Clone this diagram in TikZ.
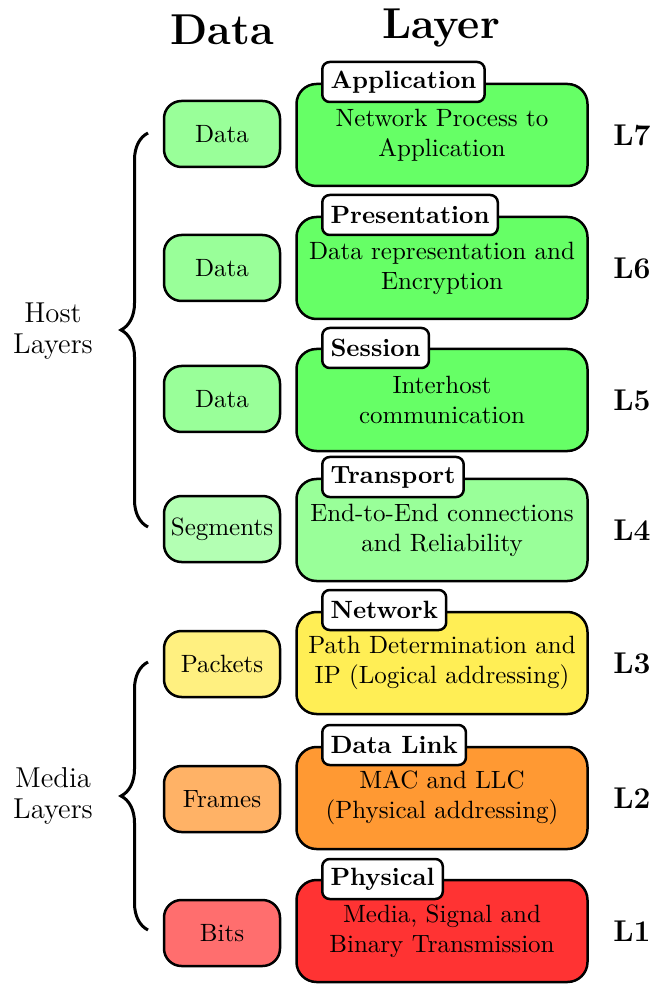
\documentclass[tikz,border=0pt]{standalone}
\usetikzlibrary{decorations.pathreplacing}
\definecolor{gA}{RGB}{102,255,102}
\definecolor{gB}{RGB}{153,255,153}
\definecolor{gC}{RGB}{179,255,179}
\definecolor{yA}{HTML}{FFEE55}
\definecolor{yB}{HTML}{FFF080}
\definecolor{oA}{RGB}{255,153,51}
\definecolor{oB}{RGB}{255,178,102}
\definecolor{rA}{RGB}{255,51,51}
\definecolor{rB}{RGB}{255,110,110}
\tikzset{
  databox/.style={draw, line width=1pt, rounded corners=7pt, minimum width=46.4pt, minimum height=26.4pt, inner sep=0pt, align=center},
  layerbox/.style={draw, line width=1pt, rounded corners=8pt, minimum width=116.4pt, minimum height=40.8pt, inner sep=0pt, align=center, text width=112pt},
  tagbox/.style={draw, line width=1pt, fill=white, rounded corners=3pt, inner xsep=3.3pt, inner ysep=0pt, minimum height=16pt, anchor=west, font=\bfseries},
  lvl/.style={font=\large\bfseries},
  title/.style={font=\LARGE\bfseries},
  bracelbl/.style={align=center, font=\fontsize{11.5}{12.5}\selectfont},
  bracedraw/.style={decorate, decoration={brace, amplitude=10.8pt}, line width=1.2pt}
}
\begin{document}
\begin{tikzpicture}[x=0.4pt, y=-0.4pt]
\useasboundingbox (0,0) rectangle (652,984);
\node[title] (hd) at (222,30) {Data};
\node[title] (hl) at (441,28) {Layer};

% L7
\node[databox, fill=gB] (d7) at (222,134) {Data};
\node[layerbox, fill=gA] (l7) at (442,135) {Network Process to\\Application};
\node[tagbox] (t7) at (321,82) {Application};
\node[lvl] (n7) at (632,135) {L7};
% L6
\node[databox, fill=gB] (d6) at (222,268) {Data};
\node[layerbox, fill=gA] (l6) at (442,268) {Data representation and\\Encryption};
\node[tagbox] (t6) at (321,215) {Presentation};
\node[lvl] (n6) at (632,268) {L6};
% L5
\node[databox, fill=gB] (d5) at (222,399) {Data};
\node[layerbox, fill=gA] (l5) at (442,400) {Interhost\\communication};
\node[tagbox] (t5) at (321,348) {Session};
\node[lvl] (n5) at (632,400) {L5};
% L4
\node[databox, fill=gC] (d4) at (222,529) {Segments};
\node[layerbox, fill=gB] (l4) at (442,530) {End-to-End connections\\and Reliability};
\node[tagbox] (t4) at (321,477) {Transport};
\node[lvl] (n4) at (632,530) {L4};
% L3
\node[databox, fill=yB] (d3) at (222,664) {Packets};
\node[layerbox, fill=yA] (l3) at (442,663) {Path Determination and\\IP (Logical addressing)};
\node[tagbox] (t3) at (321,610) {Network};
\node[lvl] (n3) at (632,663) {L3};
% L2
\node[databox, fill=oB] (d2) at (222,799) {Frames};
\node[layerbox, fill=oA] (l2) at (442,798) {MAC and LLC\\(Physical addressing)};
\node[tagbox] (t2) at (321,745) {Data Link};
\node[lvl] (n2) at (632,798) {L2};
% L1
\node[databox, fill=rB] (d1) at (222,933) {Bits};
\node[layerbox, fill=rA] (l1) at (442,931) {Media, Signal and\\Binary Transmission};
\node[tagbox] (t1) at (321,879) {Physical};
\node[lvl] (n1) at (632,931) {L1};

% braces
\coordinate (hb) at (148,527);
\coordinate (ht) at (148,133);
\draw[bracedraw] (hb) -- (ht);
\node[bracelbl] (hlbl) at (53,331) {Host\\Layers};
\coordinate (mb) at (148,930);
\coordinate (mt) at (148,662);
\draw[bracedraw] (mb) -- (mt);
\node[bracelbl] (mlbl) at (53,796) {Media\\Layers};
\end{tikzpicture}
\end{document}
